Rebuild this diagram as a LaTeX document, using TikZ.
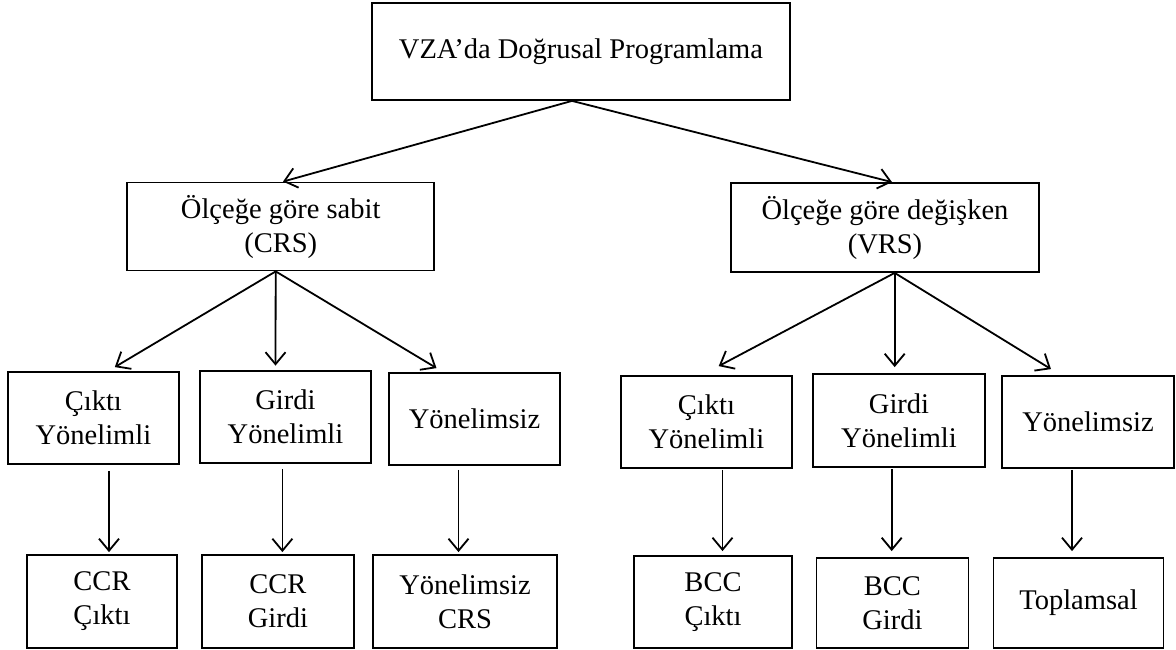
\documentclass[tikz,border=0pt]{standalone}
\usepackage{fontspec}
\setmainfont{Liberation Serif}
\usetikzlibrary{arrows.meta}
\begin{document}
\begin{tikzpicture}[x=1pt,y=1pt,
  box/.style={draw, line width=1.8pt, inner sep=0pt, align=center,
    font=\fontsize{28.5}{34}\selectfont},
  arr/.style={line width=1.8pt, -{Straight Barb[length=12pt,width=20pt,line width=1.8pt]}}]
\fill[white] (0,0) rectangle (1176,-650);
\useasboundingbox (0,0) rectangle (1176,-650);

% root
\node[box, minimum width=418pt, minimum height=97pt] (top) at (581,-51.5) {VZA’da Doğrusal Programlama};

% returns to scale
\node[box, minimum width=307pt, minimum height=88pt] (crs) at (280.7,-226.5) {Ölçeğe göre sabit\\(CRS)};
\node[box, minimum width=308pt, minimum height=89pt] (vrs) at (885,-227.5) {Ölçeğe göre değişken\\(VRS)};

% orientations
\node[box, minimum width=171pt, minimum height=92pt] (c1) at (93.4,-418) {Çıktı\\Yönelimli};
\node[box, minimum width=171pt, minimum height=92pt] (c2) at (285.5,-417) {Girdi\\Yönelimli};
\node[box, minimum width=171pt, minimum height=92pt] (c3) at (474.5,-419) {Yönelimsiz};
\node[box, minimum width=171pt, minimum height=92pt] (c4) at (706.4,-422) {Çıktı\\Yönelimli};
\node[box, minimum width=172pt, minimum height=93pt] (c5) at (899,-420.5) {Girdi\\Yönelimli};
\node[box, minimum width=172pt, minimum height=92pt] (c6) at (1088,-422) {Yönelimsiz};

% models
\node[box, minimum width=150pt, minimum height=93pt] (b1) at (102,-601.5) {CCR\\Çıktı};
\node[box, minimum width=152pt, minimum height=93pt] (b2) at (277.9,-601.5) {CCR\\Girdi};
\node[box, minimum width=184pt, minimum height=93pt] (b3) at (465,-601.5) {Yönelimsiz\\CRS};
\node[box, minimum width=158pt, minimum height=92pt] (b4) at (713,-602) {BCC\\Çıktı};
\node[box, minimum width=152pt, minimum height=90pt] (b5) at (892.4,-603) {BCC\\Girdi};
\node[box, minimum width=170pt, minimum height=90pt] (b6) at (1078.5,-603) {Toplamsal};

% root to scale types
\draw[arr] ([xshift=-9pt]top.south) -- ([xshift=2.3pt]crs.north);
\draw[arr] ([xshift=-9pt]top.south) -- ([xshift=7pt]vrs.north);

% CRS branch
\draw[arr] ([xshift=-5pt]crs.south) -- ([xshift=21.4pt,yshift=4pt]c1.north);
\draw[arr] ([xshift=-5pt]crs.south) -- ([xshift=-10pt,yshift=4.5pt]c2.north);
\draw[arr] ([xshift=-5pt]crs.south) -- ([xshift=-38pt,yshift=4pt]c3.north);

% VRS branch
\draw[arr] ([xshift=9.7pt]vrs.south) -- ([xshift=12.3pt,yshift=9pt]c4.north);
\draw[arr] ([xshift=9.7pt]vrs.south) -- ([xshift=-4.3pt,yshift=6pt]c5.north);
\draw[arr] ([xshift=9.7pt]vrs.south) -- ([xshift=-37pt,yshift=6pt]c6.north);

% orientation to model
\draw[arr] ([xshift=15.6pt,yshift=-6pt]c1.south) -- ([xshift=7pt,yshift=2pt]b1.north);
\draw[arr] ([xshift=-3.1pt,yshift=-5pt]c2.south) -- ([xshift=4.5pt,yshift=2pt]b2.north);
\draw[arr] ([xshift=-16pt,yshift=-4pt]c3.south) -- ([xshift=-6.5pt,yshift=2pt]b3.north);
\draw[arr] ([xshift=16.1pt,yshift=-1pt]c4.south) -- ([xshift=9.5pt,yshift=4pt]b4.north);
\draw[arr] ([xshift=-7.3pt,yshift=-1pt]c5.south) -- ([xshift=-0.7pt,yshift=6pt]b5.north);
\draw[arr] ([xshift=-16pt,yshift=-1pt]c6.south) -- ([xshift=-6.5pt,yshift=6pt]b6.north);
\end{tikzpicture}
\end{document}
